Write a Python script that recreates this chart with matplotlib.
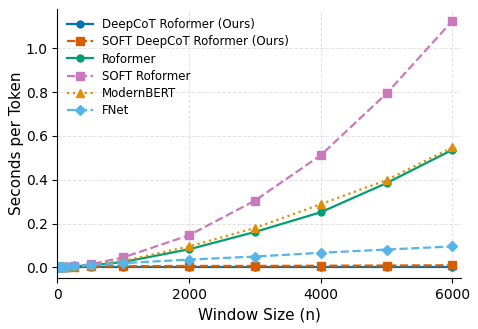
import matplotlib
matplotlib.use("Agg")
import matplotlib.pyplot as plt

window = [16, 32, 64, 128, 256, 512, 1000, 2000, 3000, 4000, 5000, 6000]
deepcot = [0.002, 0.002, 0.002, 0.002, 0.002, 0.002, 0.002, 0.002, 0.002, 0.002, 0.002, 0.002]
soft_deepcot = [0.003, 0.003, 0.004, 0.004, 0.004, 0.005, 0.006, 0.007, 0.007, 0.008, 0.009, 0.010]
roformer = [0.001, 0.001, 0.002, 0.003, 0.005, 0.010, 0.025, 0.083, 0.162, 0.252, 0.385, 0.537]
soft_roformer = [0.001, 0.001, 0.002, 0.003, 0.006, 0.015, 0.046, 0.147, 0.305, 0.512, 0.794, 1.125]
modernbert = [0.001, 0.001, 0.002, 0.003, 0.006, 0.012, 0.030, 0.096, 0.180, 0.289, 0.399, 0.548]
fnet = [0.002, 0.002, 0.003, 0.004, 0.006, 0.012, 0.020, 0.036, 0.050, 0.067, 0.082, 0.096]

labels = ["DeepCoT Roformer (Ours)", "SOFT DeepCoT Roformer (Ours)", "Roformer",
          "SOFT Roformer", "ModernBERT", "FNet"]

fig, ax = plt.subplots(figsize=(4.78, 3.29), dpi=100)
fig.subplots_adjust(left=0.12, right=0.964, top=0.973, bottom=0.155)

lw = 1.6
ax.plot(window, deepcot, color="#0173b2", linestyle="-", marker="o", markersize=5, linewidth=lw, label=labels[0])
ax.plot(window, soft_deepcot, color="#d55e00", linestyle="--", marker="s", markersize=5.5, linewidth=lw, label=labels[1])
ax.plot(window, roformer, color="#029e73", linestyle="-", marker="o", markersize=5, linewidth=lw, label=labels[2])
ax.plot(window, soft_roformer, color="#cc78bc", linestyle="--", marker="s", markersize=5.5, linewidth=lw, label=labels[3])
ax.plot(window, modernbert, color="#de8f05", linestyle=":", marker="^", markersize=6, linewidth=lw, label=labels[4])
ax.plot(window, fnet, color="#56b4e9", linestyle="--", marker="D", markersize=5, linewidth=lw, label=labels[5])

ax.set_xlim(0, 6128)
ax.set_ylim(-0.048, 1.18)
ax.set_xticks([0, 2000, 4000, 6000])
ax.set_yticks([0.0, 0.2, 0.4, 0.6, 0.8, 1.0])
ax.tick_params(labelsize=10)
ax.set_xlabel("Window Size (n)", fontsize=11)
ax.set_ylabel("Seconds per Token", fontsize=11, labelpad=1)
ax.grid(True, linestyle="--", color="#e3e3e3", linewidth=0.7)
ax.set_axisbelow(True)
for s in ["top", "right"]:
    ax.spines[s].set_visible(False)
ax.legend(loc="upper left", frameon=False, fontsize=8.5, handlelength=2.2,
          labelspacing=0.35, borderaxespad=0.4)

fig.savefig("out.png", dpi=100)
